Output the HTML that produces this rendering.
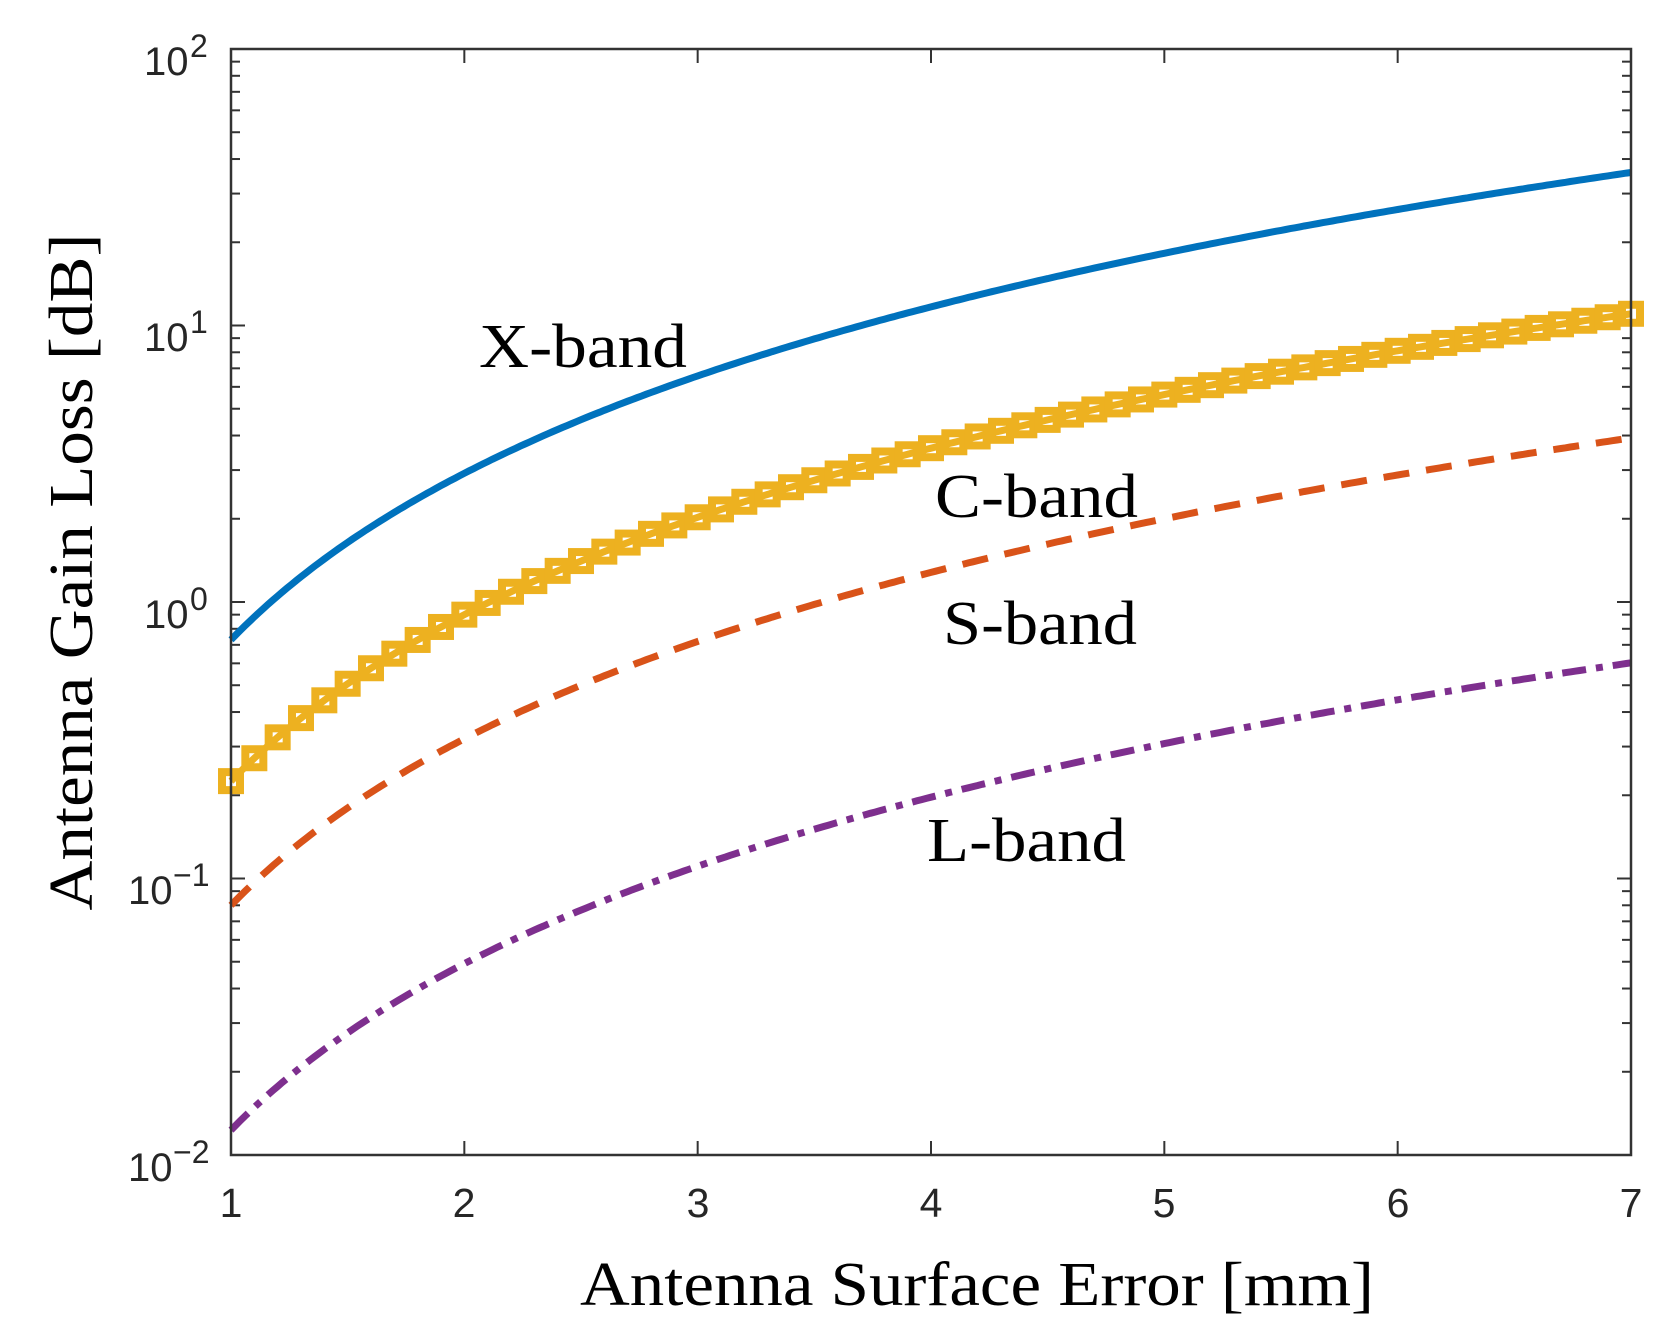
<!DOCTYPE html>
<html><head><meta charset="utf-8"><style>
html,body{margin:0;padding:0;background:#fff;}
svg{display:block;}
</style></head><body>
<svg id="s" width="1662" height="1335" viewBox="0 0 1662 1335" xmlns="http://www.w3.org/2000/svg">
<rect width="1662" height="1335" fill="#fff"/>
<g id="ticks" stroke="#333" stroke-width="2" fill="none"></g>
<g id="curves" fill="none" stroke-width="7"></g>
<rect x="231" y="49" width="1400" height="1106" fill="none" stroke="#333" stroke-width="2.5"/>
<g font-family="Liberation Sans, Arial, sans-serif" font-size="41" fill="#262626" text-anchor="middle">
<text x="231" y="1217">1</text><text x="464" y="1217">2</text><text x="698" y="1217">3</text><text x="931" y="1217">4</text><text x="1164" y="1217">5</text><text x="1398" y="1217">6</text><text x="1631" y="1217">7</text>
</g>
<g font-family="Liberation Sans, Arial, sans-serif" fill="#262626">
<text x="144" y="75" font-size="40">10</text><text x="190" y="57" font-size="32">2</text>
<text x="144" y="351" font-size="40">10</text><text x="190" y="333" font-size="32">1</text>
<text x="144" y="628" font-size="40">10</text><text x="190" y="610" font-size="32">0</text>
<text x="128" y="904" font-size="40">10</text><text x="173" y="886" font-size="32">−1</text>
<text x="128" y="1181" font-size="40">10</text><text x="173" y="1163" font-size="32">−2</text>
</g>
<g font-family="Liberation Serif, Times New Roman, serif" fill="#000" font-size="62">
<text x="479" y="367" textLength="208" lengthAdjust="spacingAndGlyphs">X-band</text>
<text x="935" y="517" textLength="203" lengthAdjust="spacingAndGlyphs">C-band</text>
<text x="943" y="644" textLength="194" lengthAdjust="spacingAndGlyphs">S-band</text>
<text x="927" y="861" textLength="199" lengthAdjust="spacingAndGlyphs">L-band</text>
<text x="580" y="1305" textLength="794" lengthAdjust="spacingAndGlyphs">Antenna Surface Error [mm]</text>
<text transform="translate(92,572) rotate(-90)" text-anchor="middle" textLength="677" lengthAdjust="spacingAndGlyphs">Antenna Gain Loss [dB]</text>
</g>
</svg>
<script>
var NS="http://www.w3.org/2000/svg";
function X(x){return 231+(x-1)*1400/6;}
function Y(v){return 602-Math.log10(v)*276.5;}
function el(p,t,a){var e=document.createElementNS(NS,t);for(var k in a)e.setAttribute(k,a[k]);p.appendChild(e);return e;}
var tk=document.getElementById("ticks");
for(var d=-2;d<2;d++){for(var m=1;m<10;m++){var y=Y(m*Math.pow(10,d));var L=(m==1)?14:9;
el(tk,"line",{x1:231,y1:y,x2:231+L,y2:y});el(tk,"line",{x1:1631,y1:y,x2:1631-L,y2:y});}}
for(var i=2;i<=6;i++){var x=X(i);el(tk,"line",{x1:x,y1:1155,x2:x,y2:1141});el(tk,"line",{x1:x,y1:49,x2:x,y2:63});}
var cv=document.getElementById("curves");
function path(k){var d="";for(var i=0;i<=300;i++){var x=1+6*i/300;d+=(i?"L":"M")+X(x).toFixed(1)+","+Y(k*x*x).toFixed(1);}return d;}
el(cv,"path",{d:path(0.73),stroke:"#0072BD"});
el(cv,"path",{d:path(0.08),stroke:"#D95319","stroke-dasharray":"26,17"});
el(cv,"path",{d:path(0.0123),stroke:"#7E2F8E","stroke-dasharray":"24,10,7,10"});
el(cv,"path",{d:path(0.225),stroke:"#EDB120"});
for(var i=0;i<=60;i++){var x=1+i*0.1;var cx=X(x),cy=Y(0.225*x*x);
el(cv,"rect",{x:cx-9,y:cy-9,width:18,height:18,stroke:"#EDB120","stroke-width":8,fill:"none"});}
</script>
</body></html>
